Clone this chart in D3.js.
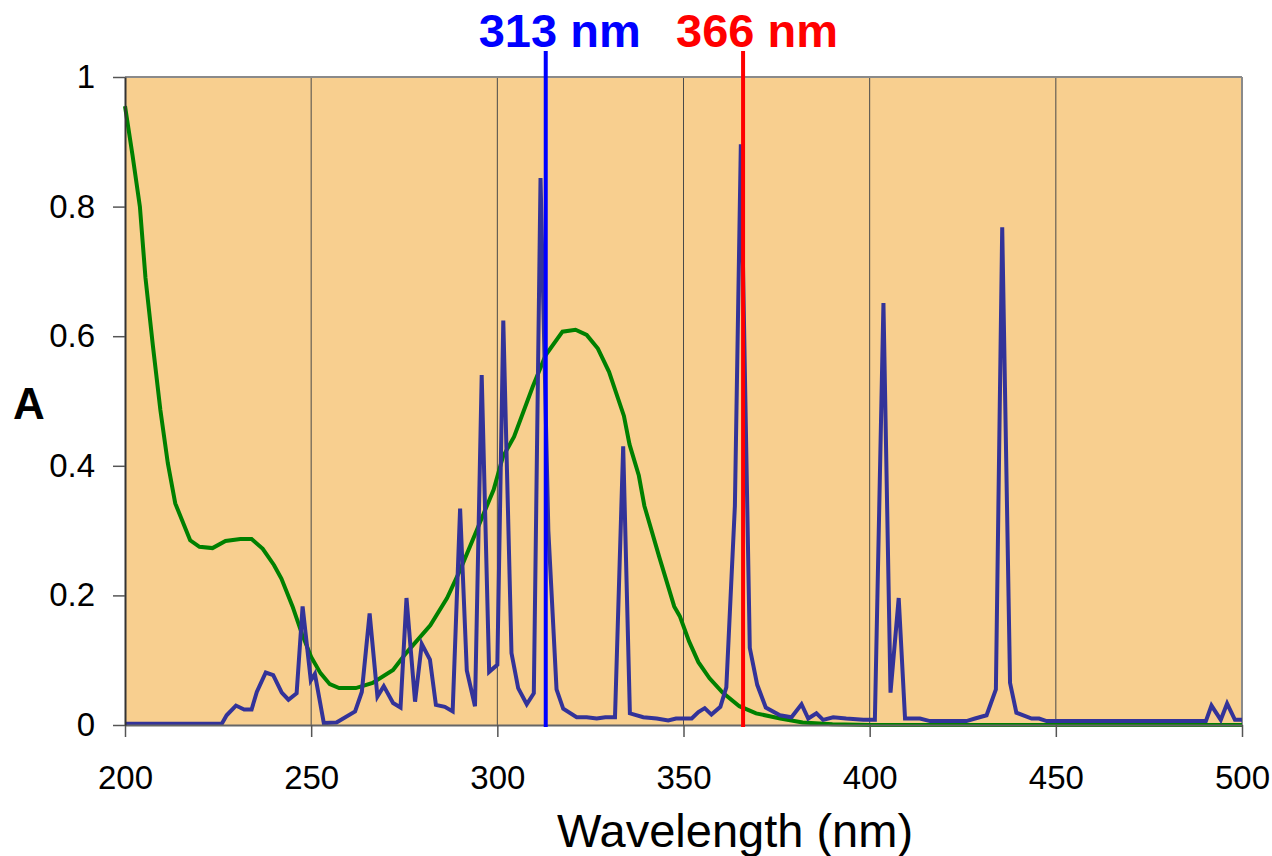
<!DOCTYPE html>
<meta charset="utf-8">
<style>
body { margin: 0; background: #fff; }
text { font-family: Arial, "Liberation Sans", sans-serif; }
.line { fill: none; stroke-width: 4px; stroke-linejoin: miter; }
</style>
<body>
<script src="https://d3js.org/d3.v7.min.js"></script>
<script>
// lamp emission spectrum (blue)
var lampNm = [200, 226, 227.3, 229.8, 232, 234, 235.4, 237.8, 239.8, 242.1, 243.9, 246.1, 247.7, 249.9, 251,
  253.4, 256.8, 261.8, 263.6, 265.7, 267.8, 269.5, 272, 274, 275.6, 277.9, 279.7, 281.9, 283.5, 285.9, 288,
  290, 291.8, 294, 295.8, 297.8, 300, 301.6, 303.8, 305.6, 307.9, 309.8, 311.6, 313.7, 315.9, 317.7, 321.3,
  324, 326.7, 329, 331.6, 333.8, 335.6, 339.2, 342.8, 345.9, 348, 350, 352.2, 354, 355.7, 357.5, 359.9,
  361.5, 363.8, 365.4, 367.8, 369.8, 372.1, 375.9, 379, 381.7, 383.5, 385.7, 387.5, 390.2, 393.7, 398.3,
  401.4, 403.7, 405.6, 407.8, 409.5, 413.5, 416.2, 426, 428.3, 431.4, 433.9, 435.6, 437.7, 439.4, 443.5,
  445.5, 447.5, 490.3, 491.8, 494.3, 496, 498.1, 500];
var lampA = [0.002, 0.002, 0.015, 0.030, 0.024, 0.024, 0.051, 0.081, 0.077, 0.050, 0.039, 0.049, 0.183, 0.069, 0.079,
  0.003, 0.004, 0.021, 0.051, 0.172, 0.044, 0.060, 0.034, 0.027, 0.196, 0.036, 0.125, 0.101, 0.031, 0.028, 0.021,
  0.334, 0.084, 0.029, 0.540, 0.082, 0.093, 0.624, 0.111, 0.057, 0.032, 0.049, 0.844, 0.300, 0.055, 0.025, 0.012,
  0.012, 0.010, 0.012, 0.012, 0.430, 0.018, 0.012, 0.010, 0.007, 0.010, 0.010, 0.010, 0.020, 0.026, 0.016, 0.028,
  0.058, 0.338, 0.896, 0.119, 0.062, 0.027, 0.015, 0.012, 0.032, 0.010, 0.018, 0.008, 0.012, 0.010, 0.008,
  0.008, 0.651, 0.050, 0.196, 0.010, 0.010, 0.006, 0.006, 0.010, 0.015, 0.055, 0.768, 0.065, 0.019, 0.010,
  0.010, 0.006, 0.006, 0.030, 0.008, 0.033, 0.008, 0.008];

// sample absorbance (green)
var sampleNm = [200, 202, 204, 205.5, 207.5, 209.5, 211.5, 213.5, 217.5, 220, 223.5, 227, 231, 234, 237, 240,
  242, 245, 247.5, 250, 252.5, 255, 257.5, 262, 266.5, 272, 275.5, 282, 286.5, 290, 294.5, 299, 301.5, 304.5,
  309.5, 313, 317.5, 321, 324, 327, 330, 334, 335.5, 338, 339.5, 343.5, 347.5, 349, 351.5, 354, 357, 360.5,
  365, 369.5, 376, 382, 390, 400, 500];
var sampleA = [0.955, 0.88, 0.80, 0.69, 0.585, 0.486, 0.404, 0.342, 0.285, 0.275, 0.273, 0.284, 0.287, 0.287, 0.272, 0.247,
  0.226, 0.183, 0.141, 0.105, 0.080, 0.063, 0.057, 0.057, 0.065, 0.085, 0.111, 0.154, 0.196, 0.239, 0.301, 0.363, 0.414, 0.445,
  0.522, 0.571, 0.607, 0.610, 0.602, 0.581, 0.545, 0.477, 0.433, 0.385, 0.338, 0.259, 0.183, 0.168, 0.129, 0.097, 0.072, 0.050,
  0.029, 0.018, 0.010, 0.004, 0.001, 0, 0];

var xTicks = [200, 250, 300, 350, 400, 450, 500];
var yTicks = [0, 0.2, 0.4, 0.6, 0.8, 1];
var markerNm = [313, 366];
var markerLabels = ["313 nm", "366 nm"];
var markerColors = ["#0000ff", "#ff0000"];

/* Set dimensions and margin */
var margin = {top: 77, right: 30, bottom: 131, left: 125},
    width = 1272 - margin.left - margin.right,
    height = 856 - margin.top - margin.bottom;

var x = d3.scaleLinear().domain([200, 500]).range([0, width]);
var y = d3.scaleLinear().domain([0, 1]).range([height, 0]);

var svg = d3.select("body").append("svg")
    .attr("width", 1272)
    .attr("height", 856)
  .append("g")
    .attr("transform", "translate(" + margin.left + "," + margin.top + ")");

// plot background
svg.append("rect")
    .attr("width", width)
    .attr("height", height)
    .style("fill", "#f8cf8f");

// vertical grid lines
svg.selectAll(".grid")
    .data(xTicks.slice(1, -1))
  .enter().append("line")
    .attr("x1", function(d) { return x(d); })
    .attr("x2", function(d) { return x(d); })
    .attr("y1", 0)
    .attr("y2", height)
    .style("stroke", "#4a4a4a")
    .style("stroke-width", 1);

// frame top and right
svg.append("line").attr("x1", 0).attr("x2", width).attr("y1", 0).attr("y2", 0)
    .style("stroke", "#8a8a8a").style("stroke-width", 2);
svg.append("line").attr("x1", width).attr("x2", width).attr("y1", 0).attr("y2", height)
    .style("stroke", "#8a8a8a").style("stroke-width", 2);

// lines
var line = d3.line()
    .x(function(d) { return x(d[0]); })
    .y(function(d) { return y(d[1]); });

svg.append("path")
    .datum(d3.zip(sampleNm, sampleA))
    .attr("class", "line")
    .attr("d", line)
    .style("stroke", "#008000");

svg.append("path")
    .datum(d3.zip(lampNm, lampA))
    .attr("class", "line")
    .attr("d", line)
    .style("stroke", "#333399");

// X axis
var xAxis = svg.append("g")
    .attr("transform", "translate(0," + height + ")")
    .call(d3.axisBottom(x).tickValues(xTicks).tickSize(12).tickPadding(29).tickSizeOuter(0));
xAxis.select(".domain").style("stroke", "#666").style("stroke-width", 2);
xAxis.selectAll(".tick line").style("stroke", "#555").style("stroke-width", 1.5);
xAxis.selectAll("text").style("font-size", "33px").style("fill", "#000")
    .style("font-family", "Arial, 'Liberation Sans', sans-serif");

// Y axis
var yAxis = svg.append("g")
    .call(d3.axisLeft(y).tickValues(yTicks).tickFormat(d3.format("")).tickSize(12).tickPadding(18).tickSizeOuter(0));
yAxis.select(".domain").style("stroke", "#333").style("stroke-width", 2);
yAxis.selectAll(".tick line").style("stroke", "#555").style("stroke-width", 1.5);
yAxis.selectAll("text").style("font-size", "33px").style("fill", "#000")
    .style("font-family", "Arial, 'Liberation Sans', sans-serif");

// axis titles
svg.append("text")
    .attr("x", 610)
    .attr("y", height + 122)
    .attr("text-anchor", "middle")
    .style("font-size", "47px")
    .text("Wavelength (nm)");

svg.append("text")
    .attr("x", -112)
    .attr("y", 342)
    .style("font-size", "44px")
    .style("font-weight", "bold")
    .text("A");

// wavelength markers
var markers = svg.selectAll(".marker")
    .data(d3.zip(markerNm, markerLabels, markerColors))
  .enter().append("g");

markers.append("line")
    .attr("x1", function(d) { return x(d[0]); })
    .attr("x2", function(d) { return x(d[0]); })
    .attr("y1", y(1.04))
    .attr("y2", height + 2)
    .style("stroke", function(d) { return d[2]; })
    .style("stroke-width", 4);

markers.append("text")
    .attr("x", function(d) { return x(d[0]) + 14; })
    .attr("y", -30)
    .attr("text-anchor", "middle")
    .style("font-size", "47px")
    .style("font-weight", "bold")
    .style("fill", function(d) { return d[2]; })
    .text(function(d) { return d[1]; });
</script>
</body>
